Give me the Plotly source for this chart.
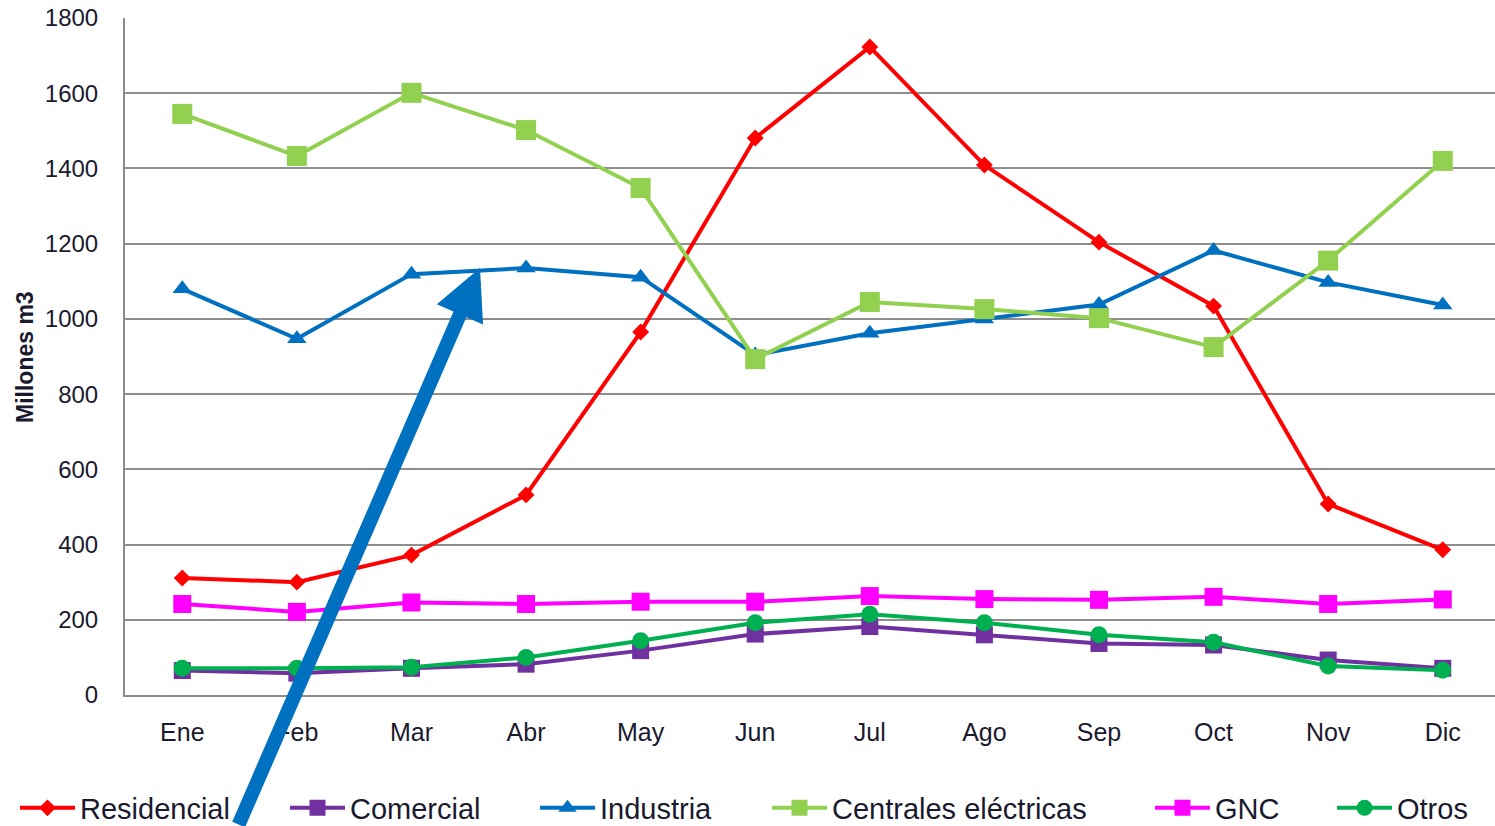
import plotly.graph_objects as go

months = ["Ene", "Feb", "Mar", "Abr", "May", "Jun", "Jul", "Ago", "Sep", "Oct", "Nov", "Dic"]

residencial = [311, 300, 372, 532, 965, 1481, 1723, 1409, 1204, 1034, 508, 386]
comercial = [65, 58, 71, 82, 118, 162, 182, 160, 137, 133, 93, 71]
industria = [1080, 947, 1119, 1135, 1111, 904, 962, 1000, 1038, 1182, 1097, 1037]
centrales = [1545, 1433, 1601, 1502, 1348, 893, 1045, 1026, 1002, 925, 1155, 1420]
gnc = [242, 221, 246, 242, 248, 248, 263, 255, 253, 261, 242, 254]
otros = [71, 71, 74, 100, 144, 192, 215, 192, 160, 140, 77, 66]

series = [
    ("Residencial", residencial, "#FF0000", "diamond", 13, 80),
    ("Comercial", comercial, "#7030A0", "square", 17, 350),
    ("Industria", industria, "#0070C0", "triangle-up", 17, 600),
    ("Centrales eléctricas", centrales, "#92D050", "square", 20, 832),
    ("GNC", gnc, "#FF00FF", "square", 18, 1215),
    ("Otros", otros, "#00B050", "circle", 17, 1397),
]

W, H = 1495, 826
ML, MR, MT = 125, 0, 18
MB = H - 695
PW = W - ML - MR
PH = H - MT - MB
FONT = "Liberation Sans, Arial, sans-serif"


def paper_x(px):
    return (px - ML) / PW


def paper_y(py):
    return (H - MB - py) / PH


fig = go.Figure()
layout_legends = {}
for i, (name, vals, col, sym, size, textx) in enumerate(series):
    key = "legend" if i == 0 else f"legend{i+1}"
    fig.add_trace(go.Scatter(
        x=months, y=vals, name=name, mode="lines+markers",
        line=dict(color=col, width=4),
        marker=dict(color=col, symbol=sym, size=size, line=dict(width=0)),
        legend=key,
    ))
    layout_legends[key] = dict(
        x=paper_x(textx - 65), xref="paper", xanchor="left",
        y=paper_y(808), yanchor="middle",
        orientation="h", itemwidth=55,
        font=dict(family=FONT, size=29, color="#1a1a2e"),
        bgcolor="rgba(0,0,0,0)", borderwidth=0,
    )

fig.update_layout(
    width=W, height=H,
    margin=dict(l=ML, r=MR, t=MT, b=MB, pad=0, autoexpand=False),
    plot_bgcolor="white", paper_bgcolor="white",
    showlegend=True,
    **layout_legends,
)

fig.update_xaxes(
    type="category", range=[-0.5, 11.456], automargin=False,
    showline=True, linecolor="#8c8c8c", linewidth=2,
    showgrid=False, ticks="", ticklabelstandoff=14,
    tickfont=dict(family=FONT, size=25, color="#1a1a2e"),
)
fig.update_yaxes(
    range=[0, 1800], dtick=200, automargin=False,
    showline=True, linecolor="#8c8c8c", linewidth=2,
    showgrid=True, gridcolor="#8e8e8e", gridwidth=2, zeroline=False,
    ticks="", ticklabelstandoff=20,
    tickfont=dict(family=FONT, size=24, color="#1a1a2e"),
)

fig.add_annotation(
    text="Millones m3", xref="paper", yref="paper",
    x=paper_x(25), y=paper_y(357), textangle=-90, showarrow=False,
    xanchor="center", yanchor="middle",
    font=dict(family=FONT, size=23, color="#1a1a2e", weight="bold"),
)

# blue pointer arrow
fig.add_annotation(
    x=2.598, y=1135, xref="x", yref="y", text="",
    showarrow=True, arrowhead=2, arrowsize=0.72, arrowwidth=14,
    arrowcolor="#0070C0", ax=-242, ay=572, axref="pixel", ayref="pixel",
    standoff=0,
)

fig.write_html(
    "out.html",
    config={"displayModeBar": False},
    post_script="document.body.style.margin='0px';",
)
